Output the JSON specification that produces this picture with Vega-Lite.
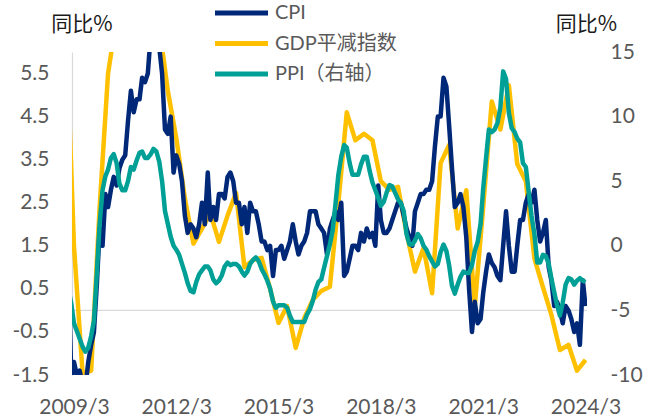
{
 "$schema": "https://vega.github.io/schema/vega-lite/v6.json",
 "width": 515,
 "height": 323,
 "autosize": {"type": "none"},
 "padding": {"left": 72, "top": 52, "right": 73, "bottom": 44},
 "background": "white",
 "config": {"view": {"stroke": null}, "font": "Lato"},
 "data": {"values": [
  {"d":"2008-12","g":7.0},
  {"d":"2009-01","c":1.0,"p":-3.3},
  {"d":"2009-02","c":-1.6,"p":-4.5},
  {"d":"2009-03","c":-1.2,"p":-6.0,"g":1.5},
  {"d":"2009-04","c":-1.5,"p":-6.6},
  {"d":"2009-05","c":-1.4,"p":-7.2},
  {"d":"2009-06","c":-1.7,"p":-7.8,"g":-1.45},
  {"d":"2009-07","c":-1.8,"p":-8.2},
  {"d":"2009-08","c":-1.2,"p":-7.9},
  {"d":"2009-09","c":-0.8,"p":-7.0,"g":-1.4},
  {"d":"2009-10","c":-0.5,"p":-5.8},
  {"d":"2009-11","c":0.6,"p":-2.1},
  {"d":"2009-12","c":1.9,"p":1.7,"g":2.4},
  {"d":"2010-01","c":1.5,"p":4.3},
  {"d":"2010-02","c":2.7,"p":5.4},
  {"d":"2010-03","c":2.4,"p":5.9,"g":5.5},
  {"d":"2010-04","c":2.8,"p":6.8},
  {"d":"2010-05","c":3.1,"p":7.1},
  {"d":"2010-06","c":2.9,"p":6.4,"g":6.8},
  {"d":"2010-07","c":3.3,"p":4.8},
  {"d":"2010-08","c":3.5,"p":4.3},
  {"d":"2010-09","c":3.6,"p":4.3,"g":7.0},
  {"d":"2010-10","c":4.4,"p":5.0},
  {"d":"2010-11","c":5.1,"p":6.1},
  {"d":"2010-12","c":4.6,"p":5.9,"g":7.5},
  {"d":"2011-01","c":4.9,"p":6.6},
  {"d":"2011-02","c":4.9,"p":7.2},
  {"d":"2011-03","c":5.4,"p":7.3,"g":7.5},
  {"d":"2011-04","c":5.3,"p":6.8},
  {"d":"2011-05","c":5.5,"p":6.8},
  {"d":"2011-06","c":6.4,"p":7.1,"g":7.8},
  {"d":"2011-07","c":6.5,"p":7.5},
  {"d":"2011-08","c":6.2,"p":7.3},
  {"d":"2011-09","c":6.1,"p":6.5,"g":6.6},
  {"d":"2011-10","c":5.5,"p":5.0},
  {"d":"2011-11","c":4.2,"p":2.7},
  {"d":"2011-12","c":4.1,"p":1.7,"g":5.1},
  {"d":"2012-01","c":4.5,"p":0.7},
  {"d":"2012-02","c":3.2,"p":0.0},
  {"d":"2012-03","c":3.6,"p":-0.3,"g":4.0},
  {"d":"2012-04","c":3.4,"p":-0.7},
  {"d":"2012-05","c":3.0,"p":-1.4},
  {"d":"2012-06","c":2.2,"p":-2.1,"g":2.6},
  {"d":"2012-07","c":1.8,"p":-2.9},
  {"d":"2012-08","c":2.0,"p":-3.5},
  {"d":"2012-09","c":1.9,"p":-3.6,"g":1.55},
  {"d":"2012-10","c":1.7,"p":-2.8},
  {"d":"2012-11","c":2.0,"p":-2.2},
  {"d":"2012-12","c":2.5,"p":-1.9,"g":1.9},
  {"d":"2013-01","c":2.0,"p":-1.6},
  {"d":"2013-02","c":3.2,"p":-1.6},
  {"d":"2013-03","c":2.1,"p":-1.9,"g":2.26},
  {"d":"2013-04","c":2.4,"p":-2.6},
  {"d":"2013-05","c":2.1,"p":-2.9},
  {"d":"2013-06","c":2.7,"p":-2.7,"g":1.59},
  {"d":"2013-07","c":2.7,"p":-2.3},
  {"d":"2013-08","c":2.6,"p":-1.6},
  {"d":"2013-09","c":3.1,"p":-1.3,"g":2.2},
  {"d":"2013-10","c":3.2,"p":-1.5},
  {"d":"2013-11","c":3.0,"p":-1.4},
  {"d":"2013-12","c":2.5,"p":-1.4,"g":2.73},
  {"d":"2014-01","c":2.5,"p":-1.6},
  {"d":"2014-02","c":2.0,"p":-2.0},
  {"d":"2014-03","c":2.4,"p":-2.3,"g":1.0},
  {"d":"2014-04","c":1.8,"p":-2.0},
  {"d":"2014-05","c":2.5,"p":-1.4},
  {"d":"2014-06","c":2.3,"p":-1.1,"g":1.17},
  {"d":"2014-07","c":2.3,"p":-0.9},
  {"d":"2014-08","c":2.0,"p":-1.2},
  {"d":"2014-09","c":1.6,"p":-1.8,"g":1.22},
  {"d":"2014-10","c":1.6,"p":-2.2},
  {"d":"2014-11","c":1.4,"p":-2.7},
  {"d":"2014-12","c":1.5,"p":-3.3,"g":0.5},
  {"d":"2015-01","c":0.8,"p":-4.3},
  {"d":"2015-02","c":1.4,"p":-4.8},
  {"d":"2015-03","c":1.4,"p":-4.6,"g":-0.29},
  {"d":"2015-04","c":1.5,"p":-4.6},
  {"d":"2015-05","c":1.2,"p":-4.6},
  {"d":"2015-06","c":1.4,"p":-4.8,"g":0.1},
  {"d":"2015-07","c":1.6,"p":-5.4},
  {"d":"2015-08","c":2.0,"p":-5.9},
  {"d":"2015-09","c":1.6,"p":-5.9,"g":-0.87},
  {"d":"2015-10","c":1.3,"p":-5.9},
  {"d":"2015-11","c":1.5,"p":-5.9},
  {"d":"2015-12","c":1.6,"p":-5.9,"g":-0.18},
  {"d":"2016-01","c":1.8,"p":-5.3},
  {"d":"2016-02","c":2.3,"p":-4.9},
  {"d":"2016-03","c":2.3,"p":-4.3,"g":0.24},
  {"d":"2016-04","c":2.3,"p":-3.4},
  {"d":"2016-05","c":2.0,"p":-2.8},
  {"d":"2016-06","c":1.9,"p":-2.6,"g":0.45},
  {"d":"2016-07","c":1.8,"p":-1.7},
  {"d":"2016-08","c":1.3,"p":-0.8},
  {"d":"2016-09","c":1.9,"p":0.1,"g":0.55},
  {"d":"2016-10","c":2.1,"p":1.2},
  {"d":"2016-11","c":2.3,"p":3.3},
  {"d":"2016-12","c":2.1,"p":5.5,"g":2.5},
  {"d":"2017-01","c":2.5,"p":6.9},
  {"d":"2017-02","c":0.8,"p":7.8},
  {"d":"2017-03","c":0.9,"p":7.6,"g":4.6},
  {"d":"2017-04","c":1.2,"p":6.4},
  {"d":"2017-05","c":1.5,"p":5.5},
  {"d":"2017-06","c":1.5,"p":5.5,"g":3.95},
  {"d":"2017-07","c":1.4,"p":5.5},
  {"d":"2017-08","c":1.8,"p":6.3},
  {"d":"2017-09","c":1.6,"p":6.9,"g":4.1},
  {"d":"2017-10","c":1.9,"p":6.9},
  {"d":"2017-11","c":1.7,"p":5.8},
  {"d":"2017-12","c":1.8,"p":4.9,"g":3.95},
  {"d":"2018-01","c":1.5,"p":4.3},
  {"d":"2018-02","c":2.9,"p":3.7},
  {"d":"2018-03","c":2.1,"p":3.1,"g":3.0},
  {"d":"2018-04","c":1.8,"p":3.4},
  {"d":"2018-05","c":1.8,"p":4.1},
  {"d":"2018-06","c":1.9,"p":4.7,"g":2.8},
  {"d":"2018-07","c":2.1,"p":4.6},
  {"d":"2018-08","c":2.3,"p":4.1},
  {"d":"2018-09","c":2.5,"p":3.6,"g":2.87},
  {"d":"2018-10","c":2.5,"p":3.3},
  {"d":"2018-11","c":2.2,"p":2.7},
  {"d":"2018-12","c":1.9,"p":0.9,"g":1.8},
  {"d":"2019-01","c":1.7,"p":0.1},
  {"d":"2019-02","c":1.5,"p":0.1},
  {"d":"2019-03","c":2.3,"p":0.4,"g":0.9},
  {"d":"2019-04","c":2.5,"p":0.9},
  {"d":"2019-05","c":2.7,"p":0.6},
  {"d":"2019-06","c":2.7,"p":0.0,"g":1.45},
  {"d":"2019-07","c":2.8,"p":-0.3},
  {"d":"2019-08","c":2.8,"p":-0.8},
  {"d":"2019-09","c":3.0,"p":-1.2,"g":0.4},
  {"d":"2019-10","c":3.8,"p":-1.6},
  {"d":"2019-11","c":4.5,"p":-1.4},
  {"d":"2019-12","c":4.5,"p":-0.5,"g":3.42},
  {"d":"2020-01","c":5.4,"p":0.1},
  {"d":"2020-02","c":5.2,"p":-0.4},
  {"d":"2020-03","c":4.3,"p":-1.5,"g":3.84},
  {"d":"2020-04","c":3.3,"p":-3.1},
  {"d":"2020-05","c":2.4,"p":-3.7},
  {"d":"2020-06","c":2.5,"p":-3.0,"g":1.9},
  {"d":"2020-07","c":2.7,"p":-2.4},
  {"d":"2020-08","c":2.4,"p":-2.0},
  {"d":"2020-09","c":1.7,"p":-2.1,"g":2.79},
  {"d":"2020-10","c":0.5,"p":-2.1},
  {"d":"2020-11","c":-0.5,"p":-1.5},
  {"d":"2020-12","c":0.2,"p":-0.4,"g":0.1},
  {"d":"2021-01","c":-0.3,"p":0.3},
  {"d":"2021-02","c":-0.2,"p":1.7},
  {"d":"2021-03","c":0.4,"p":4.4,"g":2.4},
  {"d":"2021-04","c":0.9,"p":6.8},
  {"d":"2021-05","c":1.3,"p":9.0},
  {"d":"2021-06","c":1.1,"p":8.8,"g":4.85},
  {"d":"2021-07","c":1.0,"p":9.0},
  {"d":"2021-08","c":0.8,"p":9.5},
  {"d":"2021-09","c":0.7,"p":10.7,"g":4.2},
  {"d":"2021-10","c":1.5,"p":13.5},
  {"d":"2021-11","c":2.3,"p":12.9},
  {"d":"2021-12","c":1.5,"p":10.3,"g":5.23},
  {"d":"2022-01","c":0.9,"p":9.1},
  {"d":"2022-02","c":0.9,"p":8.8},
  {"d":"2022-03","c":1.5,"p":8.3,"g":3.4},
  {"d":"2022-04","c":2.1,"p":8.0},
  {"d":"2022-05","c":2.1,"p":6.4},
  {"d":"2022-06","c":2.5,"p":6.1,"g":3.0},
  {"d":"2022-07","c":2.7,"p":4.2},
  {"d":"2022-08","c":2.5,"p":2.3},
  {"d":"2022-09","c":2.8,"p":0.9,"g":1.2},
  {"d":"2022-10","c":2.1,"p":-1.3},
  {"d":"2022-11","c":1.6,"p":-1.3},
  {"d":"2022-12","c":1.8,"p":-0.7,"g":0.54},
  {"d":"2023-01","c":2.1,"p":-0.8},
  {"d":"2023-02","c":1.0,"p":-1.4},
  {"d":"2023-03","c":0.7,"p":-2.5,"g":-0.1},
  {"d":"2023-04","c":0.1,"p":-3.6},
  {"d":"2023-05","c":0.2,"p":-4.6},
  {"d":"2023-06","c":0.0,"p":-5.4,"g":-0.92},
  {"d":"2023-07","c":-0.3,"p":-4.4},
  {"d":"2023-08","c":0.1,"p":-3.0},
  {"d":"2023-09","c":0.0,"p":-2.5,"g":-0.8},
  {"d":"2023-10","c":-0.2,"p":-2.6},
  {"d":"2023-11","c":-0.5,"p":-3.0},
  {"d":"2023-12","c":-0.3,"p":-2.7,"g":-1.4},
  {"d":"2024-01","c":-0.8,"p":-2.5},
  {"d":"2024-02","c":0.7,"p":-2.7},
  {"d":"2024-03","c":0.1,"p":-2.8,"g":-1.15}
 ]},
 "layer": [
  {
   "layer": [
    {
     "data": {"values": [{"z": 0}]},
     "mark": {"type": "rule", "color": "#d9d9d9", "strokeWidth": 1.2},
     "encoding": {"y": {"field": "z", "type": "quantitative"}}
    },
    {
     "transform": [{"fold": ["c", "g"], "as": ["s", "v"]}, {"filter": "datum.v != null"}],
     "mark": {"type": "line", "strokeWidth": 4.5, "strokeJoin": "round", "clip": true},
     "encoding": {
      "x": {"field": "d", "type": "temporal",
       "scale": {"type": "utc", "domain": [{"year": 2009, "month": 2, "date": 8, "utc": true}, {"year": 2024, "month": 3, "date": 17, "utc": true}]},
       "axis": {"title": null, "values": [
         {"year": 2009, "month": 3, "date": 1, "utc": true},
         {"year": 2012, "month": 3, "date": 1, "utc": true},
         {"year": 2015, "month": 3, "date": 1, "utc": true},
         {"year": 2018, "month": 3, "date": 1, "utc": true},
         {"year": 2021, "month": 3, "date": 1, "utc": true},
         {"year": 2024, "month": 3, "date": 1, "utc": true}],
        "labelExpr": "utcFormat(datum.value, '%Y/%-m')",
        "grid": false, "ticks": false, "tickSize": 0, "domain": false,
        "labelPadding": 21, "labelFont": "Lato", "labelFontSize": 21, "labelColor": "#595959",
        "labelFlush": false, "labelOverlap": false}},
      "y": {"field": "v", "type": "quantitative",
       "scale": {"domain": [-1.5, 6], "nice": false, "zero": false},
       "axis": {"values": [-1.5, -0.5, 0.5, 1.5, 2.5, 3.5, 4.5, 5.5],
        "labelExpr": "'' + datum.value",
        "grid": false, "ticks": false, "tickSize": 0,
        "domain": true, "domainColor": "#d9d9d9", "domainWidth": 1.2,
        "labelPadding": 23, "labelFont": "Lato", "labelFontSize": 21, "labelColor": "#595959",
        "title": "同比%", "titleAngle": 0, "titleX": 9.5, "titleY": -28,
        "titleAlign": "center", "titleBaseline": "middle",
        "titleFont": "Noto Sans CJK SC", "titleFontSize": 21, "titleFontWeight": "normal", "titleColor": "#1a1a1a"}},
      "color": {"field": "s", "type": "nominal",
       "scale": {"domain": ["c", "g", "p"], "range": ["#002878", "#FFC000", "#00A096"]},
       "legend": {"orient": "none", "legendX": 140.5, "legendY": -53, "direction": "vertical",
        "title": null, "symbolType": "stroke", "symbolSize": 2809, "symbolStrokeWidth": 5,
        "clipHeight": 28, "rowPadding": 2.5, "labelOffset": 4.5, "padding": 0,
        "labelFont": "Lato, 'Noto Sans CJK SC'", "labelFontSize": 20, "labelColor": "#595959", "labelLimit": 400,
        "labelExpr": "datum.label === 'c' ? 'CPI' : (datum.label === 'g' ? 'GDP平减指数' : 'PPI（右轴）')"}}
     }
    }
   ]
  },
  {
   "transform": [{"fold": ["p"], "as": ["s", "v"]}, {"filter": "datum.v != null"}],
   "mark": {"type": "line", "strokeWidth": 4.5, "strokeJoin": "round", "clip": true},
   "encoding": {
    "x": {"field": "d", "type": "temporal",
     "scale": {"type": "utc", "domain": [{"year": 2009, "month": 2, "date": 8, "utc": true}, {"year": 2024, "month": 3, "date": 17, "utc": true}]},
     "axis": {"title": null, "values": [
       {"year": 2009, "month": 3, "date": 1, "utc": true},
       {"year": 2012, "month": 3, "date": 1, "utc": true},
       {"year": 2015, "month": 3, "date": 1, "utc": true},
       {"year": 2018, "month": 3, "date": 1, "utc": true},
       {"year": 2021, "month": 3, "date": 1, "utc": true},
       {"year": 2024, "month": 3, "date": 1, "utc": true}],
      "labelExpr": "utcFormat(datum.value, '%Y/%-m')",
      "grid": false, "ticks": false, "tickSize": 0, "domain": false,
      "labelPadding": 21, "labelFont": "Lato", "labelFontSize": 21, "labelColor": "#595959",
      "labelFlush": false, "labelOverlap": false}},
    "y": {"field": "v", "type": "quantitative",
     "scale": {"domain": [-10, 15], "nice": false, "zero": false},
     "axis": {"orient": "right", "values": [-10, -5, 0, 5, 10, 15],
      "labelExpr": "'' + datum.value",
      "grid": false, "ticks": false, "tickSize": 0, "domain": false,
      "labelPadding": 23, "labelFont": "Lato", "labelFontSize": 21, "labelColor": "#595959",
      "title": "同比%", "titleAngle": 0, "titleX": -1, "titleY": -28,
      "titleAlign": "center", "titleBaseline": "middle",
      "titleFont": "Noto Sans CJK SC", "titleFontSize": 21, "titleFontWeight": "normal", "titleColor": "#1a1a1a"}},
    "color": {"field": "s", "type": "nominal",
     "scale": {"domain": ["c", "g", "p"], "range": ["#002878", "#FFC000", "#00A096"]}}
   }
  }
 ],
 "resolve": {"scale": {"y": "independent"}}
}
